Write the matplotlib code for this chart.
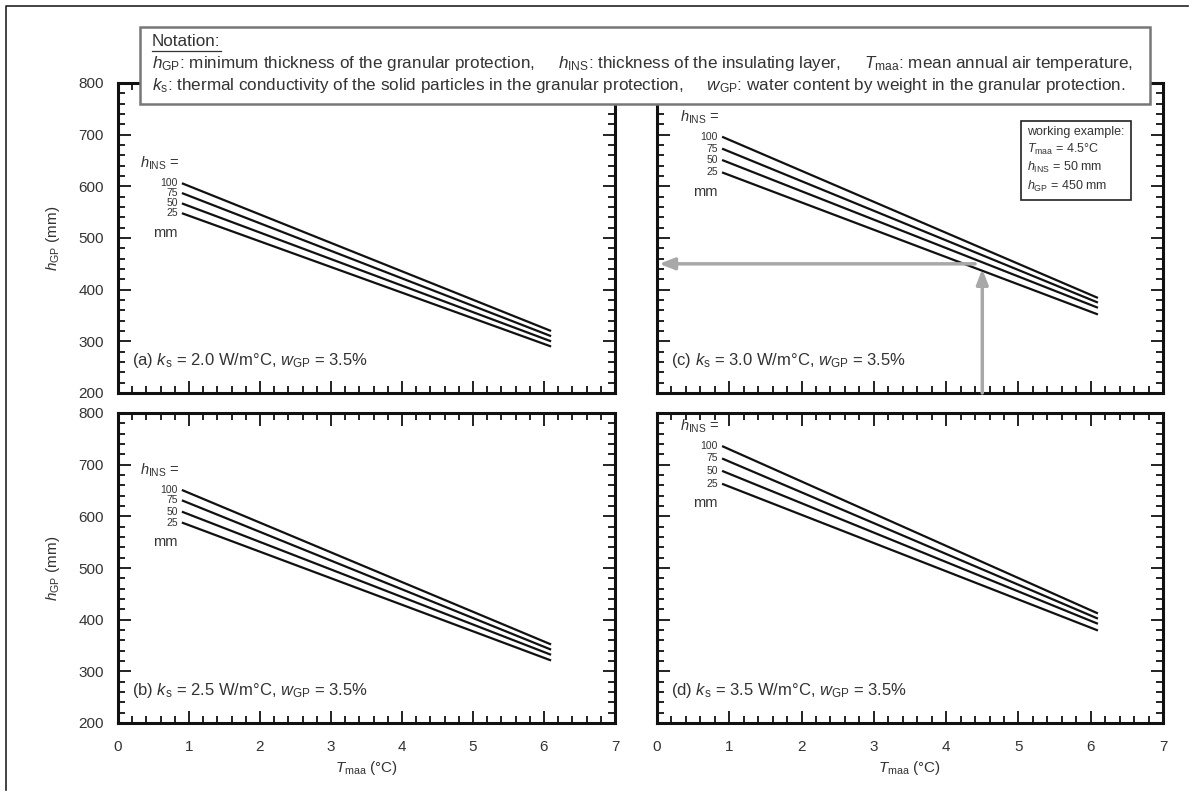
import matplotlib
matplotlib.use("Agg")
import matplotlib.pyplot as plt
from matplotlib.patches import Rectangle
from matplotlib.lines import Line2D
from matplotlib.ticker import MultipleLocator

plt.rcParams['font.family'] = ['Liberation Sans', 'DejaVu Sans']
plt.rcParams['mathtext.fontset'] = 'custom'
plt.rcParams['mathtext.rm'] = 'Liberation Sans'
plt.rcParams['mathtext.it'] = 'Liberation Sans:italic'
plt.rcParams['mathtext.bf'] = 'Liberation Sans:bold'

# ---- data ----
h_ins = [100, 75, 50, 25]                 # mm
t_range = [0.9, 6.1]                      # Tmaa start / end (deg C)
# h_GP at start / end of each line, per panel
panel_a = {100: [606, 320], 75: [587, 310], 50: [567, 300], 25: [548, 290]}
panel_b = {100: [651, 352], 75: [631, 342], 50: [609, 332], 25: [588, 321]}
panel_c = {100: [696, 384], 75: [673, 375], 50: [651, 365], 25: [627, 352]}
panel_d = {100: [736, 412], 75: [712, 402], 50: [688, 392], 25: [663, 379]}
panel_labels = [r"(a) $k_{\mathrm{s}}$ = 2.0 W/m°C, $w_{\mathrm{GP}}$ = 3.5%",
                r"(b) $k_{\mathrm{s}}$ = 2.5 W/m°C, $w_{\mathrm{GP}}$ = 3.5%",
                r"(c) $k_{\mathrm{s}}$ = 3.0 W/m°C, $w_{\mathrm{GP}}$ = 3.5%",
                r"(d) $k_{\mathrm{s}}$ = 3.5 W/m°C, $w_{\mathrm{GP}}$ = 3.5%"]
example_T = 4.5
example_hgp = 450
example_hit = 440
x_ticks = [0, 1, 2, 3, 4, 5, 6, 7]
y_ticks = [200, 300, 400, 500, 600, 700, 800]

W, H = 1192, 796
fig = plt.figure(figsize=(W / 100, H / 100), dpi=100)

def px_axes(x0, y0, x1, y1):
    return fig.add_axes([x0 / W, 1 - y1 / H, (x1 - x0) / W, (y1 - y0) / H])

ax_a = px_axes(118, 83, 615, 393)
ax_b = px_axes(118, 413, 615, 723)
ax_c = px_axes(657, 83, 1163, 393)
ax_d = px_axes(657, 413, 1163, 723)

panels = [(ax_a, panel_a, panel_labels[0]),
          (ax_b, panel_b, panel_labels[1]),
          (ax_c, panel_c, panel_labels[2]),
          (ax_d, panel_d, panel_labels[3])]

tc = '#333333'
for ax, pdata, lab in panels:
    ax.set_xlim(0, 7)
    ax.set_ylim(200, 800)
    ax.set_xticks(x_ticks)
    ax.set_yticks(y_ticks)
    ax.xaxis.set_minor_locator(MultipleLocator(0.2))
    ax.yaxis.set_minor_locator(MultipleLocator(20))
    ax.tick_params(which='both', direction='in', top=True, right=True,
                   color='#111111', labelcolor=tc, labelsize=11)
    ax.tick_params(which='major', length=9, width=1.3)
    ax.tick_params(which='minor', length=5, width=1.3)
    ax.tick_params(axis='y', pad=10)
    ax.tick_params(axis='x', pad=12)
    for sp in ax.spines.values():
        sp.set_linewidth(2.2)
        sp.set_color('#111111')
    for h in h_ins:
        ax.plot(t_range, pdata[h], color='#111111', lw=1.6, solid_capstyle='butt')
        ax.text(t_range[0] - 0.06, pdata[h][0], str(h), ha='right', va='center',
                fontsize=7.5, color=tc)
    ax.text(t_range[0] - 0.04, pdata[100][0] + 38, r"$h_{\mathrm{INS}}$ =",
            ha='right', va='center', fontsize=10.5, color=tc)
    ax.text(t_range[0] - 0.06, pdata[25][0] - 38, "mm", ha='right', va='center',
            fontsize=10.5, color=tc)
    ax.text(0.2, 262, lab, ha='left', va='center', fontsize=12, color=tc)

for ax in (ax_a, ax_c):
    ax.tick_params(labelbottom=False)
for ax in (ax_c, ax_d):
    ax.tick_params(labelleft=False)
for ax in (ax_a, ax_b):
    ax.set_ylabel(r"$h_{\mathrm{GP}}$ (mm)", fontsize=11, color=tc, labelpad=12)
for ax in (ax_b, ax_d):
    ax.set_xlabel(r"$T_{\mathrm{maa}}$ (°C)", fontsize=11, color=tc, labelpad=4)

# working example arrows
gray = '#a8a8a8'
ax_c.annotate("", xy=(0.03, example_hgp), xytext=(4.4, example_hgp),
              arrowprops=dict(arrowstyle='-|>,head_length=0.9,head_width=0.35',
                              color=gray, lw=2.5, shrinkA=0, shrinkB=0))
ax_c.annotate("", xy=(example_T, example_hit), xytext=(example_T, 200),
              arrowprops=dict(arrowstyle='-|>,head_length=0.9,head_width=0.35',
                              color=gray, lw=2.5, shrinkA=0, shrinkB=0))
ax_c.text(5.12, 716,
          "working example:\n" + r"$T_{\mathrm{maa}}$ = 4.5°C" + "\n"
          + r"$h_{\mathrm{INS}}$ = 50 mm" + "\n" + r"$h_{\mathrm{GP}}$ = 450 mm",
          ha='left', va='top', fontsize=9, color=tc, linespacing=1.3,
          bbox=dict(boxstyle='square,pad=0.5', fc='white', ec='#222222', lw=1.2))

# notation box
fig.add_artist(Rectangle((140 / W, 1 - 104 / H), (1150 - 140) / W, (104 - 27) / H,
                         transform=fig.transFigure, fc='white', ec='#777777',
                         lw=1.8, zorder=5))
nfs = 12.3
gap = "     "
t0 = fig.text(152 / W, 1 - 46 / H, "Notation:", fontsize=nfs, color=tc,
              ha='left', va='baseline', zorder=6)
fig.text(152 / W, 1 - 68 / H,
         r"$h_{\mathrm{GP}}$: minimum thickness of the granular protection," + gap
         + r"$h_{\mathrm{INS}}$: thickness of the insulating layer," + gap
         + r"$T_{\mathrm{maa}}$: mean annual air temperature,",
         fontsize=nfs, color=tc, ha='left', va='baseline', zorder=6)
fig.text(152 / W, 1 - 90 / H,
         r"$k_{\mathrm{s}}$: thermal conductivity of the solid particles in the granular protection," + gap
         + r"$w_{\mathrm{GP}}$: water content by weight in the granular protection.",
         fontsize=nfs, color=tc, ha='left', va='baseline', zorder=6)
fig.canvas.draw()
bb = t0.get_window_extent(fig.canvas.get_renderer())
fig.add_artist(Line2D([bb.x0 / W, bb.x1 / W], [(bb.y0 - 2) / H, (bb.y0 - 2) / H],
                      transform=fig.transFigure, color=tc, lw=0.9, zorder=6))

# outer frame (left & top)
fig.add_artist(Line2D([6 / W, 6 / W, 1188 / W], [6 / H, 1 - 6 / H, 1 - 6 / H],
                      transform=fig.transFigure, color='#222222', lw=1.2))

fig.savefig("out.png", dpi=100)
